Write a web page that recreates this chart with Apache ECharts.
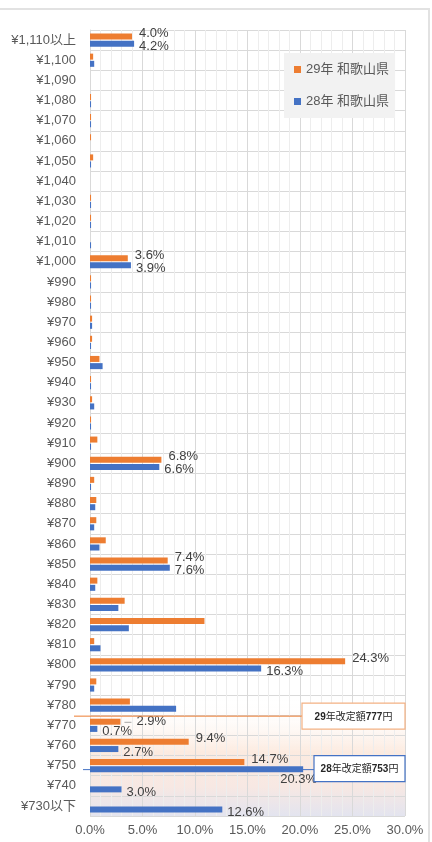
<!DOCTYPE html>
<html>
<head>
	<meta charset="UTF-8">
	<title></title>
	<script src="https://cdn.jsdelivr.net/npm/echarts@6/dist/echarts.min.js"></script>
	<style>
		html, body { margin: 0; padding: 0; background: #fff; }
	</style>
</head>
<body>
<div id="main" style="width: 432px;height:842px;"></div>
<script>
	// 最低賃金の分布（和歌山県）
	var categories = ['¥1,110以上','¥1,100','¥1,090','¥1,080','¥1,070','¥1,060','¥1,050','¥1,040','¥1,030','¥1,020',
		'¥1,010','¥1,000','¥990','¥980','¥970','¥960','¥950','¥940','¥930','¥920',
		'¥910','¥900','¥890','¥880','¥870','¥860','¥850','¥840','¥830','¥820',
		'¥810','¥800','¥790','¥780','¥770','¥760','¥750','¥740','¥730以下'];
	var data29 = [4.0,0.3,0,0.1,0.1,0.1,0.3,0,0.1,0.1,
		0,3.6,0.1,0.1,0.2,0.2,0.9,0.1,0.2,0.1,
		0.7,6.8,0.4,0.6,0.6,1.5,7.4,0.7,3.3,10.9,
		0.4,24.3,0.6,3.8,2.9,9.4,14.7,0,0];
	var data28 = [4.2,0.4,0,0.1,0.1,0,0.1,0,0.1,0.1,
		0.1,3.9,0.1,0.1,0.2,0.1,1.2,0.1,0.4,0.1,
		0.1,6.6,0.1,0.5,0.4,0.9,7.6,0.5,2.7,3.7,
		1.0,16.3,0.4,8.2,0.7,2.7,20.3,3.0,12.6];
	var labeled = ['¥1,110以上','¥1,000','¥900','¥850','¥800','¥770','¥760','¥750','¥740','¥730以下'];
	var xTicks = [0, 5, 10, 15, 20, 25, 30];
	var seriesNames = ['29年 和歌山県', '28年 和歌山県'];
	var note29 = '29年改定額777円';
	var note28 = '28年改定額753円';

	var FONT = "'Liberation Sans', 'Noto Sans CJK JP', sans-serif";
	var ORANGE = '#ed7d31', BLUE = '#4472c4';

	function buildData(arr, tweak){
		return arr.map(function(v, i){
			var item = { value: v };
			if (labeled.indexOf(categories[i]) >= 0 && v > 0) {
				item.label = { show: true };
				if (tweak[categories[i]]) item.label.offset = tweak[categories[i]];
			}
			return item;
		});
	}

	var myChart = echarts.init(document.getElementById('main'));
	var option = {
		animation: false,
		textStyle: { fontFamily: FONT },
		legend: {
			orient: 'vertical',
			left: 284, top: 53,
			padding: [10, 6, 10, 10],
			itemGap: 19,
			itemWidth: 7, itemHeight: 7,
			icon: 'rect',
			backgroundColor: '#f2f2f2',
			textStyle: { fontSize: 13, color: '#595959', fontFamily: FONT },
			data: seriesNames
		},
		grid: { left: 90, right: 27, top: 30, bottom: 26, containLabel: false },
		xAxis: {
			type: 'value',
			min: xTicks[0], max: xTicks[xTicks.length - 1], interval: 5,
			axisLine: { show: false },
			axisTick: { show: false },
			axisLabel: { fontSize: 13, color: '#595959', margin: 8,
				formatter: function(v){ return v.toFixed(1) + '%'; } },
			splitLine: { lineStyle: { color: '#d9d9d9' } },
			minorTick: { show: false, splitNumber: 5 },
			minorSplitLine: { show: true, lineStyle: { color: '#ededed' } }
		},
		yAxis: {
			type: 'category',
			inverse: true,
			data: categories,
			axisLine: { lineStyle: { color: '#d9d9d9' } },
			axisTick: { length: 4, lineStyle: { color: '#d9d9d9' } },
			axisLabel: { fontSize: 13, color: '#595959', margin: 14, interval: 0 },
			splitLine: { show: true, interval: 0, lineStyle: { color: '#d9d9d9' } }
		},
		series: [
			{
				name: seriesNames[0], type: 'bar',
				barWidth: 6, barGap: '20%',
				itemStyle: { color: ORANGE },
				label: { show: false, position: 'right', distance: 7, offset: [0, -3],
					fontSize: 13, color: '#404040', fontFamily: FONT,
					formatter: function(p){ return p.value.toFixed(1) + '%'; } },
				data: buildData(data29, { '¥770': [9, 0] }),
				z: 3
			},
			{
				name: seriesNames[1], type: 'bar',
				barWidth: 6, barGap: '20%',
				itemStyle: { color: BLUE },
				label: { show: false, position: 'right', distance: 5, offset: [0, 3],
					fontSize: 13, color: '#404040', fontFamily: FONT,
					formatter: function(p){ return p.value.toFixed(1) + '%'; } },
				data: buildData(data28, { '¥750': [-28, 10] }),
				z: 3
			}
		]
	};
	myChart.setOption(option);

	// 注記（改定額）とフレーム
	function rowY(cat){ return myChart.convertToPixel({ yAxisIndex: 0 }, cat); }
	function xPix(v){ return myChart.convertToPixel({ xAxisIndex: 0 }, v); }
	var x0 = xPix(0), x30 = xPix(30);
	var y780 = rowY('¥780'), y770 = rowY('¥770'), y750 = rowY('¥750');
	var yBottom = rowY('¥730以下') + 10;
	var l29 = y780 + 11, l28 = y750 + 4;
	var x770 = xPix(data29[categories.indexOf('¥770')]);

	function noteBox(left, cy, text, color){
		var rich = text.replace(/(\d+)/g, '{b|$1}');
		return [
			{ type: 'rect', z: 20, silent: true,
				shape: { x: left, y: cy - 13, width: x30 - left, height: 26 },
				style: { fill: '#fff', stroke: color, lineWidth: 1.2 } },
			{ type: 'text', z: 21, silent: true,
				x: (left + x30) / 2, y: cy + 1,
				style: {
					text: rich,
					align: 'center', verticalAlign: 'middle',
					fontSize: 10, fontFamily: FONT,
					fill: '#262626',
					rich: { b: { fontSize: 10, fontWeight: 'bold', fontFamily: FONT, fill: '#262626' } }
				} }
		];
	}

	myChart.setOption({
		graphic: [
			{ type: 'rect', z: -10, silent: true,
				shape: { x: x0, y: y780 - 6, width: x30 - x0, height: yBottom - y780 + 6 },
				style: { fill: new echarts.graphic.LinearGradient(0, 0, 0, 1, [
					{ offset: 0, color: 'rgba(255,255,255,0)' },
					{ offset: 0.45, color: '#fcebe0' },
					{ offset: 0.75, color: '#f7e8e3' },
					{ offset: 1, color: '#e3e4ef' }
				]) } },
			{ type: 'line', z: 15, silent: true,
				shape: { x1: 0, y1: 9, x2: 430, y2: 9 }, style: { stroke: '#e2e2e2', lineWidth: 2 } },
			{ type: 'line', z: 15, silent: true,
				shape: { x1: 429, y1: 9, x2: 429, y2: 842 }, style: { stroke: '#e2e2e2', lineWidth: 2 } },
			{ type: 'line', z: 12, silent: true,
				shape: { x1: 74, y1: l29, x2: 302, y2: l29 }, style: { stroke: ORANGE, lineWidth: 1 } },
			{ type: 'line', z: 1, silent: true,
				shape: { x1: 83, y1: l28, x2: 314, y2: l28 }, style: { stroke: BLUE, lineWidth: 1 } },
			{ type: 'line', z: 12, silent: true,
				shape: { x1: x770 + 4, y1: y770 - 3, x2: x770 + 11, y2: y770 - 3 },
				style: { stroke: '#a6a6a6', lineWidth: 1 } }
		].concat(noteBox(302, l29, note29, '#f4b183'), noteBox(314, y750 + 3, note28, BLUE))
	});
</script>
</body>
</html>
